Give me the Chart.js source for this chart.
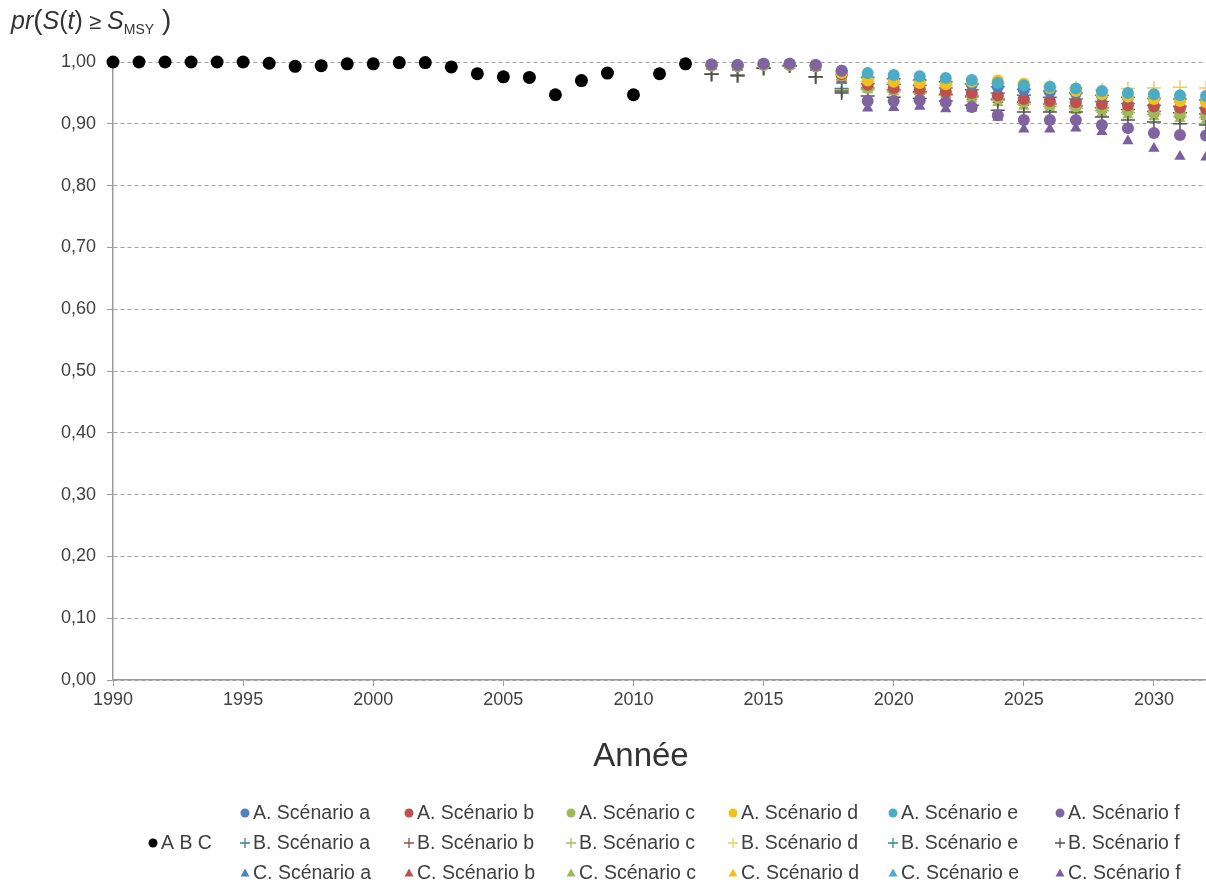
<!DOCTYPE html>
<html>
<head>
<meta charset="utf-8">
<title>pr(S(t) ≥ S_MSY)</title>
<script src="https://cdn.jsdelivr.net/npm/chart.js"></script>
<style>
  body { margin: 0; background: #fff; }
</style>
</head>
<body>
<canvas id="myChart" width="1206" height="884"></canvas>
<script>
// historical estimate, common to A, B and C
const histYears = [1990, 1991, 1992, 1993, 1994, 1995, 1996, 1997, 1998, 1999, 2000, 2001,
  2002, 2003, 2004, 2005, 2006, 2007, 2008, 2009, 2010, 2011, 2012];
const histValues = [1.000, 1.000, 1.000, 1.000, 1.000, 1.000, 0.998, 0.993, 0.994, 0.997, 0.997, 0.999,
  0.999, 0.992, 0.981, 0.976, 0.975, 0.947, 0.970, 0.982, 0.947, 0.981, 0.997];

// projections
const projYears = [2013, 2014, 2015, 2016, 2017, 2018, 2019, 2020, 2021, 2022,
  2023, 2024, 2025, 2026, 2027, 2028, 2029, 2030, 2031, 2032];

const A_a = [.995, .994, .996, .996, .994, .984, .974, .972, .970, .967, .964, .960, .955, .952, .950, .946, .943, .941, .939, .937];
const A_b = [.995, .994, .996, .996, .993, .980, .963, .958, .956, .952, .950, .946, .940, .937, .935, .932, .930, .928, .926, .924];
const A_c = [.994, .993, .995, .995, .993, .978, .958, .955, .953, .950, .947, .942, .936, .932, .928, .925, .922, .919, .917, .915];
const A_d = [.995, .994, .996, .996, .994, .982, .970, .968, .966, .964, .968, .970, .965, .958, .953, .948, .944, .940, .937, .935];
const A_e = [.996, .995, .997, .997, .995, .986, .982, .979, .977, .974, .971, .966, .962, .960, .957, .953, .950, .948, .946, .945];
const A_f = [.996, .995, .997, .997, .995, .986, .937, .937, .938, .935, .927, .914, .906, .906, .906, .898, .893, .885, .882, .881];

const B_a = [.980, .978, .990, .994, .976, .955, .965, .964, .962, .958, .955, .950, .946, .943, .940, .936, .933, .930, .928, .926];
const B_b = [.980, .978, .990, .994, .976, .953, .958, .955, .952, .948, .945, .940, .935, .932, .929, .926, .923, .920, .918, .916];
const B_c = [.980, .978, .990, .994, .976, .952, .955, .952, .950, .946, .943, .938, .932, .928, .925, .921, .918, .915, .912, .910];
const B_d = [.980, .978, .990, .994, .976, .956, .968, .966, .964, .962, .964, .966, .962, .960, .958, .955, .957, .958, .959, .958];
const B_e = [.980, .978, .990, .994, .976, .957, .975, .973, .971, .968, .965, .960, .956, .953, .950, .946, .943, .941, .940, .939];
const B_f = [.980, .978, .990, .994, .976, .950, .945, .943, .941, .937, .930, .922, .919, .919, .919, .911, .906, .903, .900, .898];

const C_a = [.993, .992, .995, .995, .991, .975, .970, .968, .966, .962, .958, .953, .948, .945, .942, .938, .934, .931, .929, .927];
const C_b = [.993, .992, .995, .995, .991, .972, .960, .955, .952, .948, .944, .939, .934, .930, .927, .923, .920, .917, .914, .912];
const C_c = [.993, .992, .995, .995, .991, .970, .955, .951, .948, .944, .940, .934, .928, .925, .921, .917, .914, .911, .908, .905];
const C_d = [.993, .992, .995, .995, .991, .974, .963, .960, .958, .956, .960, .962, .956, .952, .948, .944, .940, .937, .934, .932];
const C_e = [.993, .992, .995, .995, .992, .976, .978, .975, .973, .970, .967, .962, .958, .955, .952, .948, .945, .943, .941, .940];
const C_f = [.993, .992, .995, .995, .991, .970, .925, .926, .928, .924, .925, .910, .891, .891, .893, .887, .872, .860, .847, .846];

const yTicks = [0, 0.1, 0.2, 0.3, 0.4, 0.5, 0.6, 0.7, 0.8, 0.9, 1.0];
const xTicks = [1990, 1995, 2000, 2005, 2010, 2015, 2020, 2025, 2030];

const FONT = '"Liberation Sans", Arial, sans-serif';
const circleCol = { a: '#4F81BD', b: '#C0504D', c: '#9BBB59', d: '#F2C01C', e: '#4BACC6', f: '#8064A2' };
const crossCol  = { a: '#3F7F8A', b: '#8B5547', c: '#A8BC6C', d: '#F0CC60', e: '#2F8A90', f: '#505050' };
const triCol    = { a: '#4F81BD', b: '#B9514E', c: '#9BBB59', d: '#F2C01C', e: '#4BACC6', f: '#7A5FA0' };

const series = {
  A: { a: A_a, b: A_b, c: A_c, d: A_d, e: A_e, f: A_f },
  B: { a: B_a, b: B_b, c: B_c, d: B_d, e: B_e, f: B_f },
  C: { a: C_a, b: C_b, c: C_c, d: C_d, e: C_e, f: C_f }
};

function pts(xs, ys) {
  return xs.map((x, i) => ({ x: x, y: ys[i] }));
}

// dataset 0 is drawn last (on top), so circles come first
const datasets = [];
['f', 'e', 'd', 'a', 'b', 'c'].forEach(k => {
  datasets.push({
    label: 'A. Scénario ' + k, data: pts(projYears, series.A[k]),
    pointStyle: 'circle', pointRadius: 6, backgroundColor: circleCol[k], borderColor: circleCol[k], borderWidth: 0
  });
});
['f', 'e', 'd', 'a', 'b', 'c'].forEach(k => {
  datasets.push({
    label: 'B. Scénario ' + k, data: pts(projYears, series.B[k]),
    pointStyle: 'cross', pointRadius: 7, backgroundColor: crossCol[k], borderColor: crossCol[k], borderWidth: 1.5
  });
});
['f', 'e', 'd', 'a', 'b', 'c'].forEach(k => {
  datasets.push({
    label: 'C. Scénario ' + k, data: pts(projYears, series.C[k]),
    pointStyle: 'triangle', pointRadius: 6.5, backgroundColor: triCol[k], borderColor: triCol[k], borderWidth: 0
  });
});
datasets.push({
  label: 'A B C', data: pts(histYears, histValues),
  pointStyle: 'circle', pointRadius: 6.5, backgroundColor: '#000', borderColor: '#000', borderWidth: 0
});
datasets.forEach(d => { d.clip = false; d.showLine = false; });

function drawMarker(ctx, style, color, x, y) {
  ctx.fillStyle = color;
  ctx.strokeStyle = color;
  if (style === 'circle') {
    ctx.beginPath();
    ctx.arc(x, y, 4.5, 0, Math.PI * 2);
    ctx.fill();
  } else if (style === 'cross') {
    ctx.lineWidth = 1.3;
    ctx.beginPath();
    ctx.moveTo(x - 5, y); ctx.lineTo(x + 5, y);
    ctx.moveTo(x, y - 5); ctx.lineTo(x, y + 5);
    ctx.stroke();
  } else {
    ctx.beginPath();
    ctx.moveTo(x, y - 4.5);
    ctx.lineTo(x + 4.5, y + 3.5);
    ctx.lineTo(x - 4.5, y + 3.5);
    ctx.closePath();
    ctx.fill();
  }
}

const extras = {
  id: 'extras',
  afterDraw(chart) {
    const ctx = chart.ctx;
    ctx.save();

    // y axis title: pr(S(t) >= S_MSY)
    ctx.fillStyle = '#333';
    ctx.textAlign = 'left';
    ctx.textBaseline = 'alphabetic';
    const parts = [
      ['pr', 'italic 25px ' + FONT, 0],
      ['(', '28px ' + FONT, 0],
      ['S', 'italic 25px ' + FONT, 0],
      ['(', '25px ' + FONT, 0],
      ['t', 'italic 25px ' + FONT, 0],
      [')', '25px ' + FONT, 0],
      [' ≥ ', '22px ' + FONT, 0],
      ['S', 'italic 25px ' + FONT, 0],
      ['MSY', '14px ' + FONT, 5],
      [' )', '28px ' + FONT, 0]
    ];
    let tx = 11;
    parts.forEach(p => {
      ctx.font = p[1];
      ctx.fillText(p[0], tx, 29 + p[2]);
      tx += ctx.measureText(p[0]).width;
    });

    // x axis title
    ctx.font = '33px ' + FONT;
    ctx.textAlign = 'center';
    ctx.textBaseline = 'middle';
    ctx.fillText('Année', 641, 757);

    // legend
    ctx.font = '19.5px ' + FONT;
    ctx.textAlign = 'left';
    drawMarker(ctx, 'circle', '#000', 153, 843);
    ctx.fillStyle = '#404040';
    ctx.fillText('A B C', 161, 844);
    const colX = [245, 409, 571, 733, 893, 1060];
    const rows = [['A', 'circle', circleCol, 813], ['B', 'cross', crossCol, 843], ['C', 'triangle', triCol, 873]];
    rows.forEach(r => {
      ['a', 'b', 'c', 'd', 'e', 'f'].forEach((k, i) => {
        drawMarker(ctx, r[1], r[2][k], colX[i], r[3]);
        ctx.fillStyle = '#404040';
        ctx.fillText(r[0] + '. Scénario ' + k, colX[i] + 8, r[3] + 1);
      });
    });
    ctx.restore();
  }
};

const config = {
  type: 'scatter',
  data: { datasets: datasets },
  options: {
    responsive: false,
    animation: false,
    layout: { autoPadding: false, padding: { left: 0, right: 0, top: 62, bottom: 174 } },
    plugins: { legend: { display: false }, tooltip: { enabled: false } },
    scales: {
      x: {
        type: 'linear', min: 1990, max: 2032,
        afterBuildTicks: s => { s.ticks = xTicks.map(v => ({ value: v })); },
        afterFit: s => { s.height = 30; },
        border: { display: true, color: '#9a9a9a', width: 1.5 },
        grid: { drawOnChartArea: false, drawTicks: true, tickLength: 6, color: '#9a9a9a' },
        ticks: { color: '#404040', font: { family: FONT, size: 18 }, padding: 3, callback: v => String(v) }
      },
      y: {
        min: 0, max: 1,
        afterBuildTicks: s => { s.ticks = yTicks.map(v => ({ value: v })); },
        afterFit: s => { s.width = 113; },
        border: { display: true, color: '#9a9a9a', width: 1.5, dash: [4, 3] },
        grid: { color: '#a0a0a0', lineWidth: 1, drawTicks: true, tickLength: 6, tickColor: '#9a9a9a', tickBorderDash: [] },
        ticks: { color: '#404040', font: { family: FONT, size: 18 }, padding: 11, callback: v => v.toFixed(2).replace('.', ',') }
      }
    }
  },
  plugins: [extras]
};

const myChart = new Chart(document.getElementById('myChart'), config);
</script>
</body>
</html>
